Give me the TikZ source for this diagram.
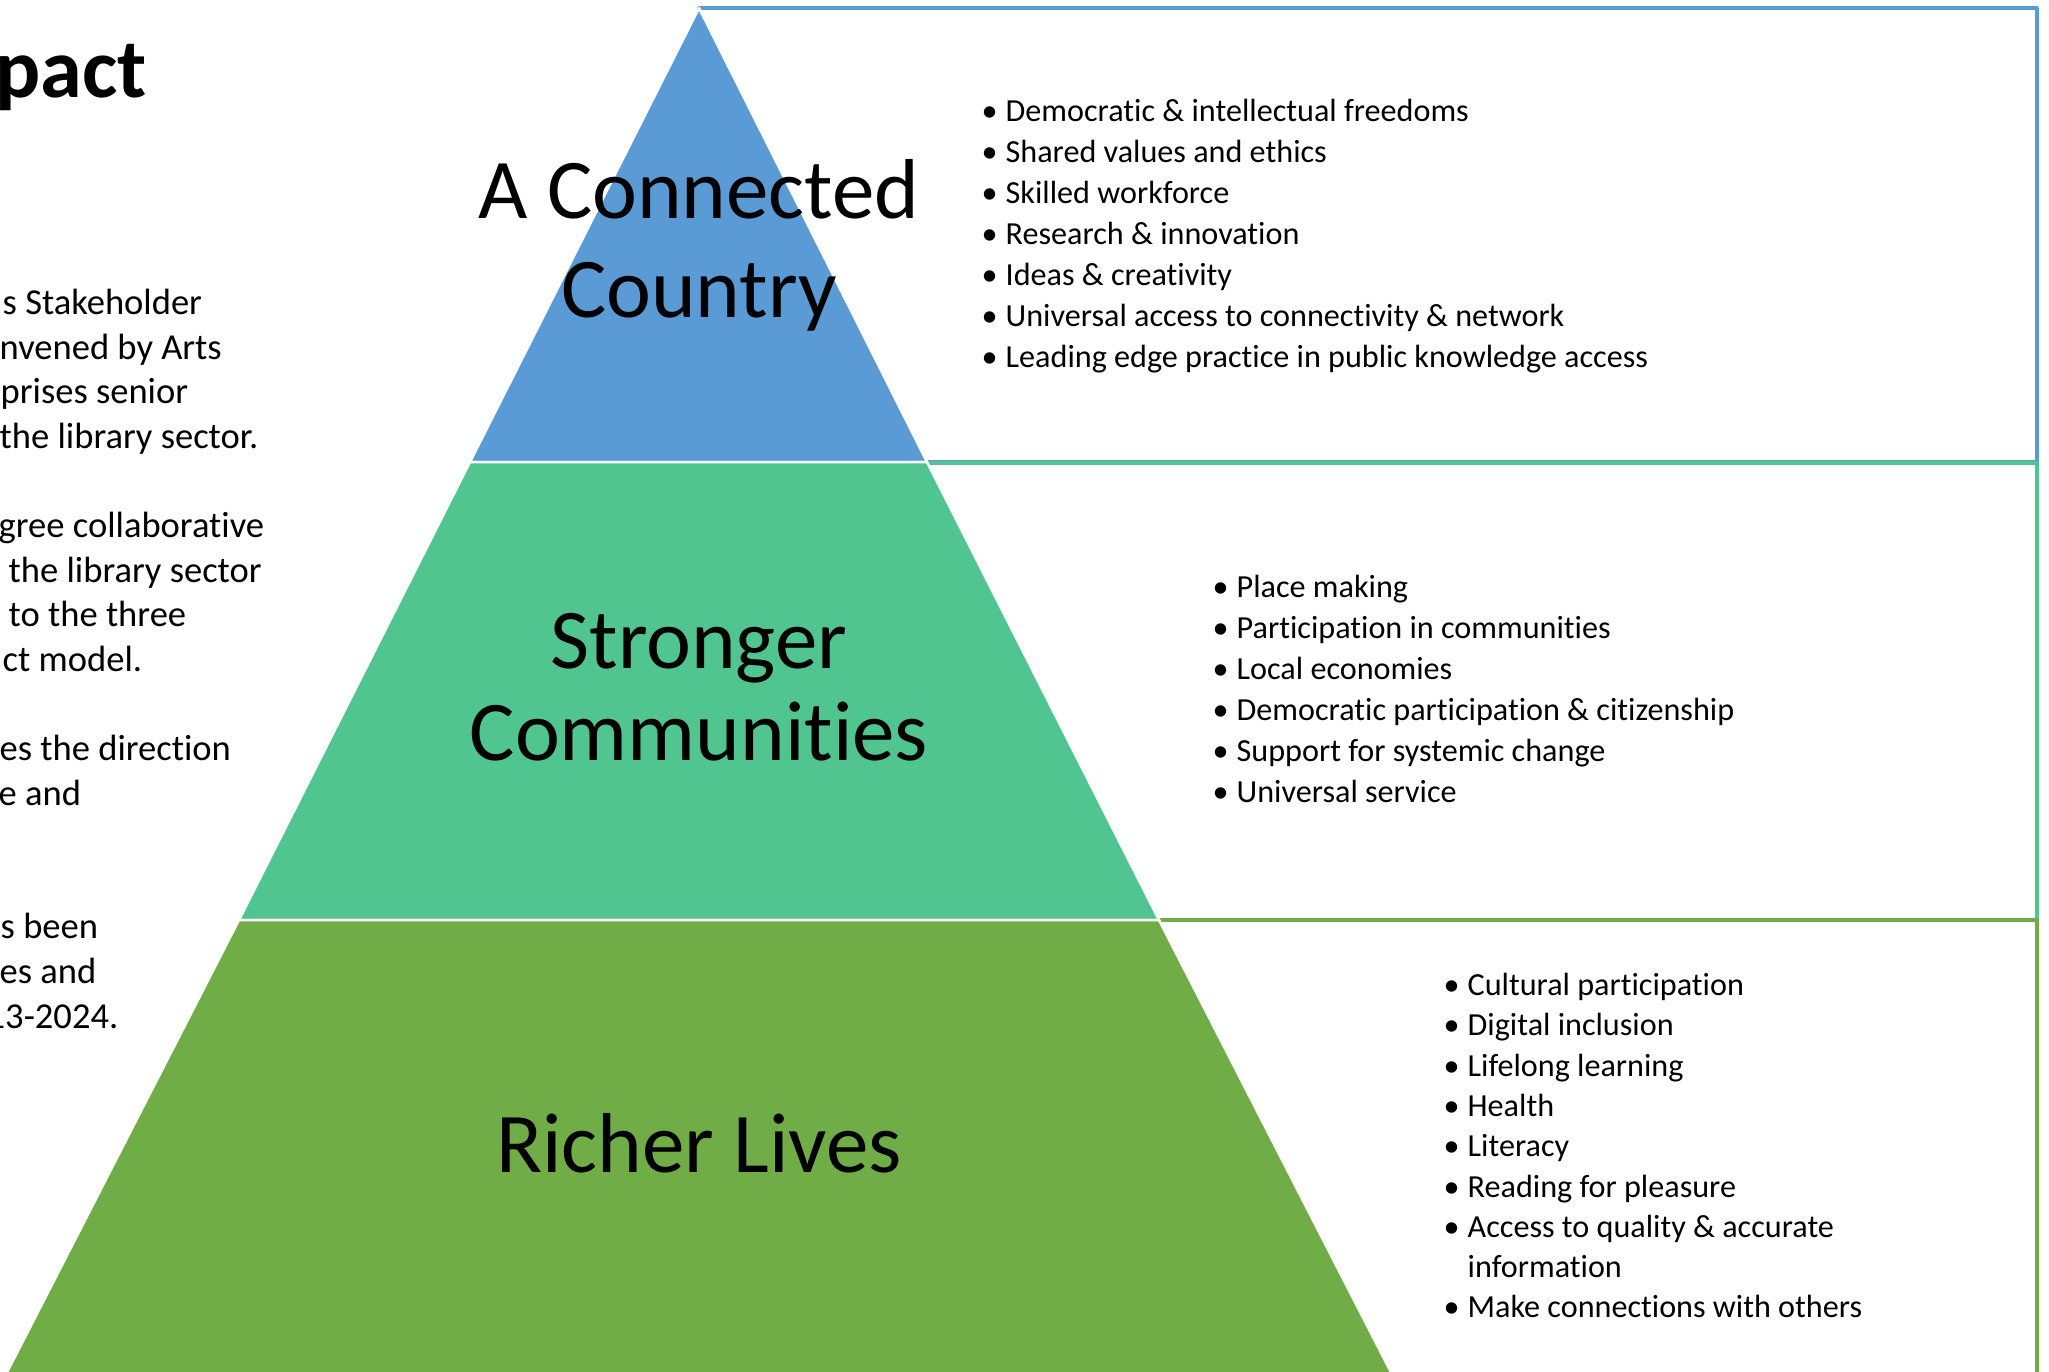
\documentclass[tikz,border=0pt]{standalone}
\usepackage{fontspec}
\setmainfont{Carlito}[Ligatures=NoCommon]
\definecolor{topblue}{HTML}{5B9BD5}
\definecolor{midgreen}{HTML}{50C58F}
\definecolor{lowgreen}{HTML}{70AD47}
\newcommand{\itembullet}{\makebox[2.4mm][l]{\textbullet}}

\begin{document}
\begin{tikzpicture}[x=0.1mm,y=-0.1mm,line join=round,
    band/.style={draw=white,line width=0.25mm},
    frame/.style={line width=0.32mm},
    biglabel/.style={anchor=base,inner sep=0pt,font=\fontsize{24.2}{28}\selectfont},
    item/.style={anchor=base west,inner sep=0pt,font=\fontsize{9.15}{11}\selectfont},
    side/.style={anchor=base west,inner sep=0pt,font=\fontsize{10.4}{12.7}\selectfont}]
		\useasboundingbox (0,0) rectangle (2049,1372);
		\clip (0,0) rectangle (2049,1372);
		\draw[frame,color=topblue] (699,8) rectangle (2037,462);
		\draw[frame,color=midgreen] (699,463) rectangle (2037,920);
		\draw[frame,color=lowgreen] (699,920) rectangle (2037,1395);
		\coordinate (apex) at (699,8);
		\coordinate (bl1) at (470,462);
		\coordinate (br1) at (927,462);
		\coordinate (bl2) at (239,920);
		\coordinate (br2) at (1159,920);
		\coordinate (bl3) at (1,1384);
		\coordinate (br3) at (1397,1384);
		\draw[band,fill=topblue] (apex) -- (br1) -- (bl1) -- cycle;
		\draw[band,fill=midgreen] (bl1) -- (br1) -- (br2) -- (bl2) -- cycle;
		\draw[band,fill=lowgreen] (bl2) -- (br2) -- (br3) -- (bl3) -- cycle;
		\node[biglabel] (cc1) at (699,218) {A Connected};
		\node[biglabel] (cc2) at (699,317) {Country};
		\node[biglabel] (sc1) at (699,668) {Stronger};
		\node[biglabel] (sc2) at (699,760) {Communities};
		\node[biglabel] (rl) at (699,1172) {Richer Lives};
		\node[item] (c1) at (981,121) {\itembullet Democratic \& intellectual freedoms};
		\node[item] (c2) at (981,162) {\itembullet Shared values and ethics};
		\node[item] (c3) at (981,203) {\itembullet Skilled workforce};
		\node[item] (c4) at (981,244) {\itembullet Research \& innovation};
		\node[item] (c5) at (981,285) {\itembullet Ideas \& creativity};
		\node[item] (c6) at (981,326) {\itembullet Universal access to connectivity \& network};
		\node[item] (c7) at (981,367) {\itembullet Leading edge practice in public knowledge access};
		\node[item] (s1) at (1212,597) {\itembullet Place making};
		\node[item] (s2) at (1212,638) {\itembullet Participation in communities};
		\node[item] (s3) at (1212,679) {\itembullet Local economies};
		\node[item] (s4) at (1212,720) {\itembullet Democratic participation \& citizenship};
		\node[item] (s5) at (1212,761) {\itembullet Support for systemic change};
		\node[item] (s6) at (1212,802) {\itembullet Universal service};
		\node[item] (r1) at (1443,995) {\itembullet Cultural participation};
		\node[item] (r2) at (1443,1035) {\itembullet Digital inclusion};
		\node[item] (r3) at (1443,1076) {\itembullet Lifelong learning};
		\node[item] (r4) at (1443,1116) {\itembullet Health};
		\node[item] (r5) at (1443,1156) {\itembullet Literacy};
		\node[item] (r6) at (1443,1197) {\itembullet Reading for pleasure};
		\node[item] (r7) at (1443,1237) {\itembullet Access to quality \& accurate};
		\node[item] (r7b) at (1467,1277) {information};
		\node[item] (r8) at (1443,1317) {\itembullet Make connections with others};
		\node[anchor=base west,inner sep=0pt,font=\fontsize{24}{29}\selectfont\bfseries] (title) at (-5,97) {pact};
		\node[side] (p1) at (2,314) {s Stakeholder};
		\node[side] (p2) at (-1,359) {nvened by Arts};
		\node[side] (p3) at (0,403) {prises senior};
		\node[side] (p4) at (-1,448) {the library sector.};
		\node[side] (p5) at (-2,537) {gree collaborative};
		\node[side] (p6) at (8,582) {the library sector};
		\node[side] (p7) at (8,626) {to the three};
		\node[side] (p8) at (2,671) {ct model.};
		\node[side] (p9) at (-1,760) {es the direction};
		\node[side] (p10) at (-2,805) {e and};
		\node[side] (p11) at (0,938) {s been};
		\node[side] (p12) at (-1,983) {es and};
		\node[side] (p13) at (-14,1028) {13-2024.};
	\end{tikzpicture}
\end{document}
